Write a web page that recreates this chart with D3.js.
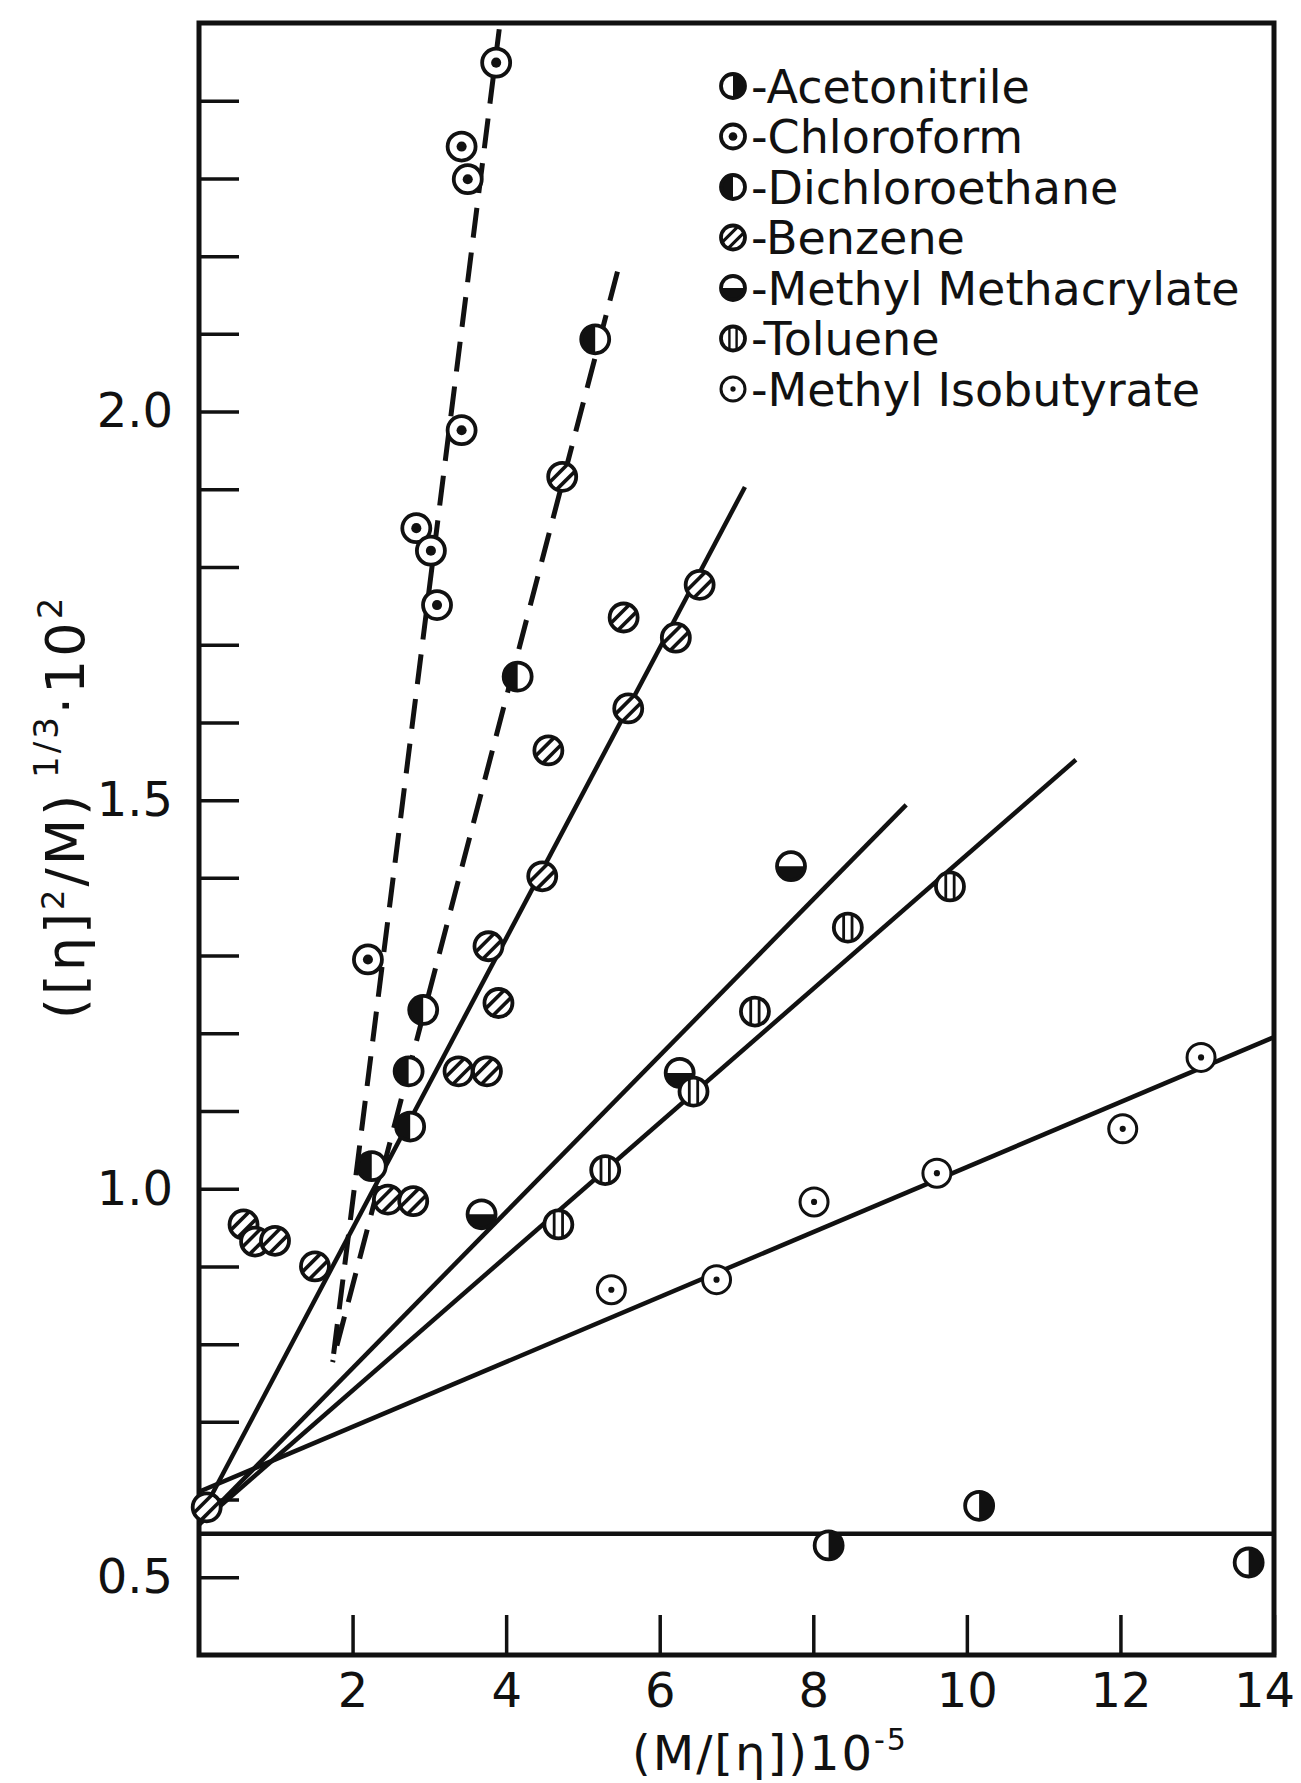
<!DOCTYPE html>
<html>
<head>
<meta charset="utf-8">
<title>Viscosity plot</title>
<script src="https://d3js.org/d3.v7.min.js"></script>
<style>
  body { margin: 0; background: #fff; }
  svg text { font-family: "DejaVu Sans", sans-serif; fill: #111; }
</style>
</head>
<body>
<div id="home"></div>
<script>
// legend order
const solvents = ["Acetonitrile", "Chloroform", "Dichloroethane", "Benzene",
                  "Methyl Methacrylate", "Toluene", "Methyl Isobutyrate"];

// points, [x, y]
const acetonitrile = [[8.20, 0.541], [10.16, 0.592], [13.67, 0.519]];
const chloroform = [[3.87, 2.449], [3.42, 2.341], [3.50, 2.299], [3.42, 1.976],
                    [2.83, 1.850], [3.02, 1.821], [3.10, 1.751], [2.20, 1.295]];
const dichloroethane = [[5.16, 2.093], [4.15, 1.659], [2.92, 1.230],
                        [2.73, 1.151], [2.75, 1.080], [2.25, 1.029]];
const benzene = [[4.73, 1.916], [6.52, 1.777], [5.53, 1.735], [6.21, 1.709], [5.59, 1.618],
                 [4.55, 1.564], [4.47, 1.402], [3.77, 1.312], [3.90, 1.239], [3.38, 1.151],
                 [3.75, 1.151], [2.46, 0.986], [2.79, 0.984], [1.51, 0.900], [0.58, 0.954],
                 [0.73, 0.932], [0.99, 0.933], [0.10, 0.590]];
const methylMethacrylate = [[7.71, 1.415], [6.26, 1.149], [3.68, 0.967]];
const toluene = [[9.78, 1.389], [8.45, 1.336], [7.24, 1.228], [6.44, 1.125],
                 [5.29, 1.024], [4.68, 0.954]];
const methylIsobutyrate = [[13.05, 1.169], [12.03, 1.077], [9.61, 1.020], [8.01, 0.983],
                           [6.74, 0.883], [5.37, 0.870]];

// fitted lines, end points
const chloroformFit = [[1.74, 0.777], [3.91, 2.492]];
const dichloroFit = [[1.74, 0.777], [5.45, 2.180]];
const benzeneFit = [[0, 0.575], [7.11, 1.903]];
const methacrylateFit = [[0, 0.568], [9.21, 1.494]];
const tolueneFit = [[0, 0.568], [11.42, 1.552]];
const isobutyrateFit = [[0, 0.610], [14, 1.195]];
const acetonitrileFit = [[0, 0.556], [14, 0.556]];

const xTickLabels = [2, 4, 6, 8, 10, 12, 14];
const yTickLabels = [0.5, 1.0, 1.5, 2.0];

const w = 1301, h = 1783;
const plotL = 199, plotR = 1274, plotT = 23, plotB = 1655;

const svg = d3.select("#home").append("svg")
  .attr("width", w).attr("height", h)
  .style("background", "#fff");

const x = d3.scaleLinear().domain([0, 14]).range([plotL, plotR]);
const y = d3.scaleLinear().domain([0.4, 2.5]).range([plotB, plotT]);

// axes, ticks pointing inside the frame
const yAxis = d3.axisLeft(y)
  .tickValues(d3.range(5, 25).map(v => v / 10))
  .tickSizeInner(-40).tickSizeOuter(0).tickPadding(26)
  .tickFormat(d => yTickLabels.some(t => Math.abs(t - d) < 1e-6) ? d.toFixed(1) : "");
const gy = svg.append("g").attr("transform", `translate(${plotL},0)`).call(yAxis);

const xAxis = d3.axisBottom(x)
  .tickValues(xTickLabels)
  .tickSizeInner(-40).tickSizeOuter(0).tickPadding(18)
  .tickFormat(d3.format("d"));
const gx = svg.append("g").attr("transform", `translate(0,${plotB})`).call(xAxis);

[gx, gy].forEach(g => {
  g.select(".domain").remove();
  g.selectAll(".tick line").attr("stroke", "#111").attr("stroke-width", 3.5);
  g.selectAll(".tick text").style("font-size", "48px").attr("fill", "#111");
});
// last label sits on the frame corner, pull it in a little
gx.selectAll(".tick text").attr("dx", d => d === 14 ? -10 : 0);

svg.append("rect")
  .attr("x", plotL).attr("y", plotT)
  .attr("width", plotR - plotL).attr("height", plotB - plotT)
  .attr("fill", "none").attr("stroke", "#111").attr("stroke-width", 5);

// fit lines
const line = d3.line().x(d => x(d[0])).y(d => y(d[1]));
[acetonitrileFit, isobutyrateFit, tolueneFit, methacrylateFit, benzeneFit].forEach(f => {
  svg.append("path").attr("d", line(f))
    .attr("fill", "none").attr("stroke", "#111").attr("stroke-width", 4.5);
});
[chloroformFit, dichloroFit].forEach(f => {
  svg.append("path").attr("d", line(f.slice().reverse()))
    .attr("fill", "none").attr("stroke", "#111").attr("stroke-width", 5)
    .attr("stroke-dasharray", "30,15");
});

// marker symbols
function marker(g, kind, r) {
  g.append("circle").attr("r", r).attr("fill", "#fff");
  if (kind === "right") {
    g.append("path").attr("d", `M0,${-r}A${r},${r} 0 0 1 0,${r}Z`).attr("fill", "#111");
  } else if (kind === "left") {
    g.append("path").attr("d", `M0,${r}A${r},${r} 0 0 1 0,${-r}Z`).attr("fill", "#111");
  } else if (kind === "bottom") {
    g.append("path").attr("d", `M${r},0A${r},${r} 0 0 1 ${-r},0Z`).attr("fill", "#111");
  } else if (kind === "dot") {
    g.append("circle").attr("r", r * 0.36).attr("fill", "#111");
  } else if (kind === "smalldot") {
    g.append("circle").attr("r", r * 0.22).attr("fill", "#111");
  } else if (kind === "diag") {
    [-0.36, 0.36].forEach(k => {
      const d = k * r, s = Math.sqrt(r * r - d * d) / Math.SQRT2, c = d / Math.SQRT2;
      g.append("line")
        .attr("x1", c - s).attr("y1", c + s).attr("x2", c + s).attr("y2", c - s)
        .attr("stroke", "#111").attr("stroke-width", r * 0.26);
    });
  } else if (kind === "vert") {
    [-0.3, 0.3].forEach(k => {
      const d = k * r, s = Math.sqrt(r * r - d * d);
      g.append("line").attr("x1", d).attr("x2", d).attr("y1", -s).attr("y2", s)
        .attr("stroke", "#111").attr("stroke-width", r * 0.2);
    });
  }
  g.append("circle").attr("r", r).attr("fill", "none")
    .attr("stroke", "#111").attr("stroke-width", kind === "smalldot" ? 3 : 3.8);
}

const series = [
  {pts: acetonitrile, kind: "right"},
  {pts: chloroform, kind: "dot"},
  {pts: dichloroethane, kind: "left"},
  {pts: benzene, kind: "diag"},
  {pts: methylMethacrylate, kind: "bottom"},
  {pts: toluene, kind: "vert"},
  {pts: methylIsobutyrate, kind: "smalldot"}
];

series.forEach(s => {
  svg.append("g").selectAll("g").data(s.pts).join("g")
    .attr("transform", d => `translate(${x(d[0])},${y(d[1])})`)
    .each(function () { marker(d3.select(this), s.kind, 14); });
});

// legend
const legend = svg.append("g").attr("transform", "translate(733,86)");
solvents.forEach((name, i) => {
  const row = legend.append("g").attr("transform", `translate(0,${i * 50.5})`);
  marker(row.append("g"), series[i].kind, 12);
  row.append("text").attr("x", 18).attr("dy", "0.36em")
    .style("font-size", "46px").text("-" + name);
});

// axis titles
const yl = svg.append("text")
  .attr("transform", "translate(84,807) rotate(-90)")
  .attr("text-anchor", "middle")
  .style("font-size", "54px").style("letter-spacing", "3px");
yl.append("tspan").text("([η]");
yl.append("tspan").attr("dy", -20).style("font-size", "32px").text("2");
yl.append("tspan").attr("dy", 20).text("/M)");
yl.append("tspan").attr("dy", -26).style("font-size", "34px").text(" 1/3");
yl.append("tspan").attr("dy", 26).text("·10");
yl.append("tspan").attr("dy", -22).style("font-size", "34px").text("2");

const xl = svg.append("text")
  .attr("x", 770).attr("y", 1770)
  .attr("text-anchor", "middle")
  .style("font-size", "48px").style("letter-spacing", "2px");
xl.append("tspan").text("(M/[η])10");
xl.append("tspan").attr("dy", -20).style("font-size", "30px").text("-5");
</script>
</body>
</html>
